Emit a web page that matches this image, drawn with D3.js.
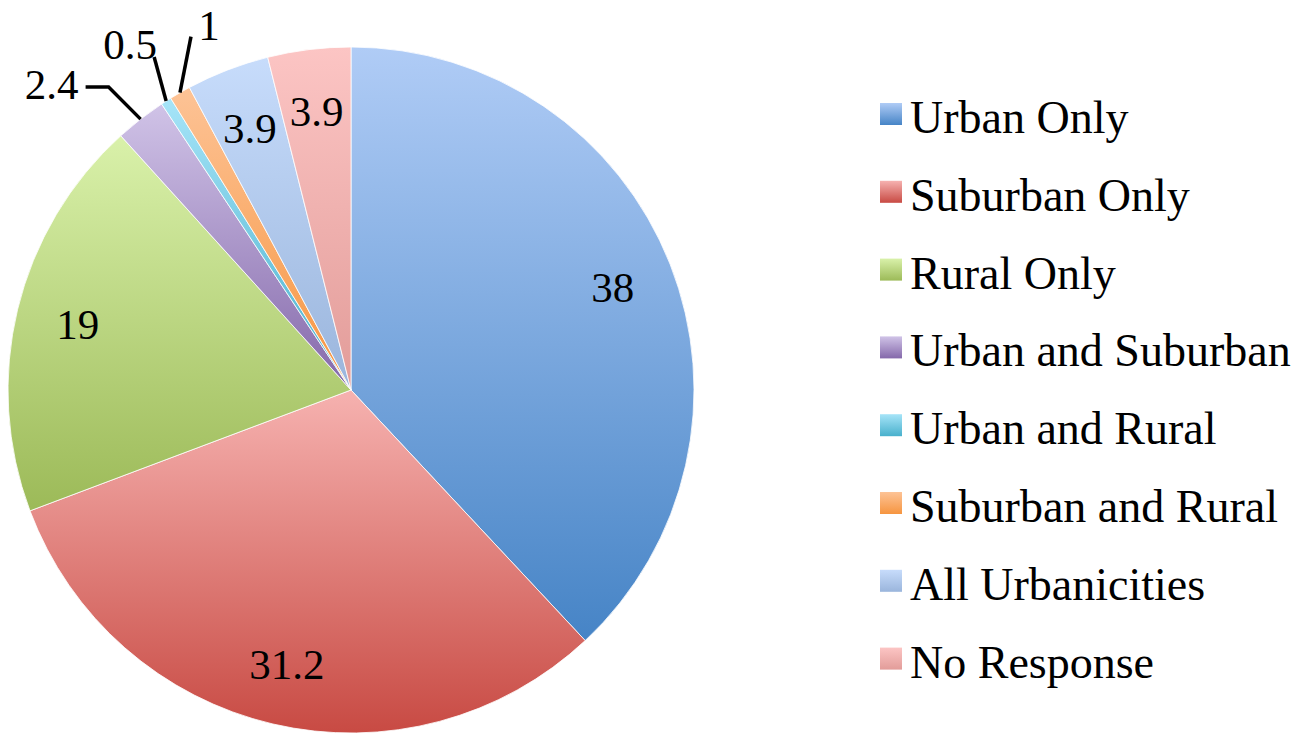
<!DOCTYPE html>
<html>
<head>
<meta charset="utf-8">
<script src="https://cdnjs.cloudflare.com/ajax/libs/d3/7.8.5/d3.min.js"></script>
<style>
  body { margin: 0; background: #fff; }
  text { font-family: "Liberation Serif", "DejaVu Serif", serif; fill: #000; }
</style>
</head>
<body>
<div id="chart"></div>
<script>
var categories = ["Urban Only", "Suburban Only", "Rural Only", "Urban and Suburban",
                  "Urban and Rural", "Suburban and Rural", "All Urbanicities", "No Response"];
var values = [38, 31.2, 19, 2.4, 0.5, 1, 3.9, 3.9];
var labels = ["38", "31.2", "19", "2.4", "0.5", "1", "3.9", "3.9"];
var topColors = ["#b0ccf6", "#f6b2b0", "#d9f1aa", "#d0c3e7", "#a6e4f8", "#fdc396", "#c7dcfb", "#fcc5c4"];
var bottomColors = ["#4684c6", "#c84a43", "#9cba58", "#8468aa", "#48b0cc", "#f69540", "#9ab5dc", "#e29c99"];

var w = 1306, h = 733,
    cx = 351, cy = 390, r = 343;

var svg = d3.select("#chart").append("svg")
    .attr("width", w)
    .attr("height", h);

var defs = svg.append("defs");
categories.forEach(function(c, i) {
  var g = defs.append("linearGradient")
      .attr("id", "grad" + i)
      .attr("x1", 0).attr("y1", 0).attr("x2", 0).attr("y2", 1);
  g.append("stop").attr("offset", "0%").attr("stop-color", topColors[i]);
  g.append("stop").attr("offset", "100%").attr("stop-color", bottomColors[i]);
});

var pie = d3.pie().sort(null).value(function(d) { return d; });
var arcs = pie(values);
var arc = d3.arc().innerRadius(0).outerRadius(r);

var vis = svg.append("g")
    .attr("transform", "translate(" + cx + "," + cy + ")");

vis.selectAll("path.slice")
    .data(arcs)
  .enter().append("path")
    .attr("class", "slice")
    .attr("d", arc)
    .attr("fill", function(d, i) { return "url(#grad" + i + ")"; })
    .attr("stroke", "#fff")
    .attr("stroke-width", 0.8);

// inside labels
var labelArc = d3.arc().innerRadius(r * 0.82).outerRadius(r * 0.82);
var inside = [0, 1, 2, 6, 7];
vis.selectAll("text.inlab")
    .data(arcs.filter(function(d, i) { return inside.indexOf(i) >= 0; }))
  .enter().append("text")
    .attr("class", "inlab")
    .attr("transform", function(d) { return "translate(" + labelArc.centroid(d) + ")"; })
    .attr("text-anchor", "middle")
    .attr("dy", "0.35em")
    .style("font-size", "43px")
    .text(function(d) { return labels[d.index]; });

// callouts for the thin slices: elbow / end offsets from the rim point
var callouts = {
  3: { pts: [[-32, -32], [-55, -32]], lab: [-62, -20], anchor: "end" },
  4: { pts: [[-12, -44]], lab: [-36, -42], anchor: "middle" },
  5: { pts: [[11, -56]], lab: [29, -53], anchor: "middle" }
};
Object.keys(callouts).forEach(function(k) {
  var d = arcs[k], c = callouts[k];
  var a = (d.startAngle + d.endAngle) / 2;
  var p0 = [r * Math.sin(a), -r * Math.cos(a)];
  var line = [p0].concat(c.pts.map(function(p) { return [p0[0] + p[0], p0[1] + p[1]]; }));
  vis.append("path")
      .attr("d", d3.line()(line))
      .attr("fill", "none")
      .attr("stroke", "#000")
      .attr("stroke-width", 3.5);
  vis.append("text")
      .attr("x", p0[0] + c.lab[0])
      .attr("y", p0[1] + c.lab[1])
      .attr("text-anchor", c.anchor)
      .style("font-size", "43px")
      .text(labels[k]);
});

// legend
var legend = svg.append("g")
    .attr("transform", "translate(880,103)");
var item = legend.selectAll("g")
    .data(categories)
  .enter().append("g")
    .attr("transform", function(d, i) { return "translate(0," + i * 77.8 + ")"; });
item.append("rect")
    .attr("width", 22).attr("height", 22)
    .attr("fill", function(d, i) { return "url(#grad" + i + ")"; });
item.append("text")
    .attr("x", 30)
    .attr("y", 30)
    .style("font-size", "46px")
    .text(function(d) { return d; });
</script>
</body>
</html>
